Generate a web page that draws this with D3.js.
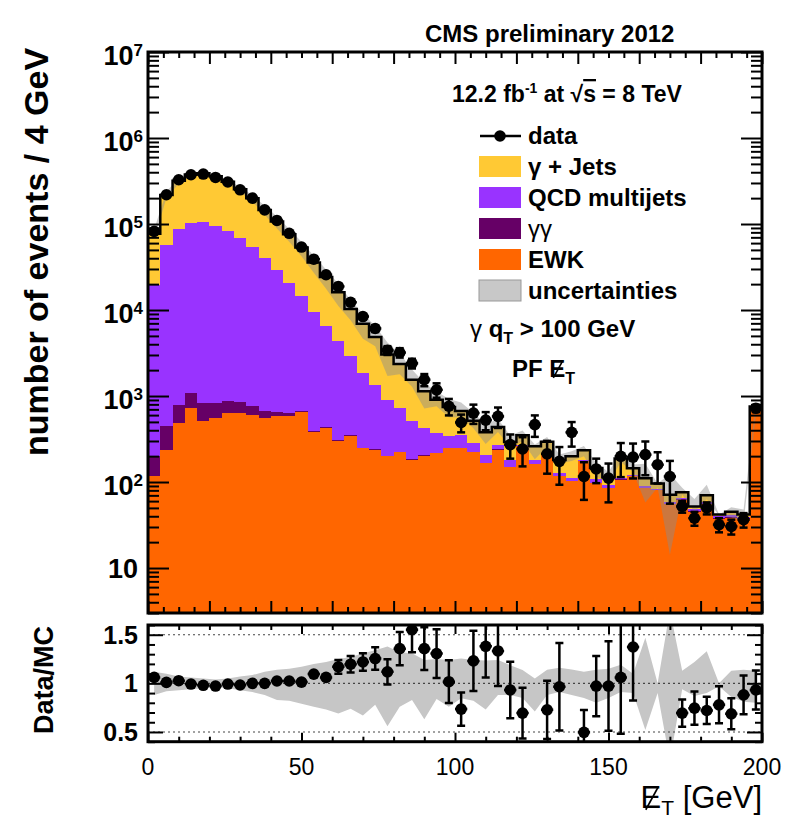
<!DOCTYPE html>
<html>
<head>
<meta charset="utf-8">
<script src="https://cdn.jsdelivr.net/npm/d3@7"></script>
<style>
body { margin: 0; background: #fff; }
svg text { font-family: "Liberation Sans", Arial, sans-serif; fill: #000; }
</style>
</head>
<body>
<svg width="785" height="828"></svg>
<script>
// MET distribution, 4 GeV bins, last bin = overflow
var binLow = [0, 4, 8, 12, 16, 20, 24, 28, 32, 36, 40, 44, 48, 52, 56, 60, 64, 68, 72, 76,
  80, 84, 88, 92, 96, 100, 104, 108, 112, 116, 120, 124, 128, 132, 136, 140, 144, 148, 152, 156,
  160, 164, 168, 172, 176, 180, 184, 188, 192, 196];

var ewk = [116, 238, 485, 724, 507, 555, 634, 634, 607, 555,
  580, 590, 646, 378, 425, 302, 345, 248, 238, 199,
  221, 181, 202, 217, 248, 250, 221, 166, 238, 149,
  259, 160, 208, 116, 102, 174, 97, 85, 106, 116,
  85, 80, 55, 62, 45, 55, 37, 38, 37, 740];

var gammagamma = [83, 206, 307, 360, 323, 275, 231, 216, 153, 109,
  72, 44, 29, 10, 8, 6, 5, 4, 4, 3,
  3, 3, 2, 2, 2, 2, 2, 1, 1, 1,
  1, 1, 1, 1, 1, 1, 1, 1, 1, 1,
  1, 1, 1, 1, 1, 1, 1, 1, 1, 1];

var qcd = [19500, 57000, 86000, 103000, 104000, 95000, 83000, 68000, 53000, 39500,
  28500, 20000, 13700, 9200, 6000, 4000, 2550, 1600, 1100, 700,
  500, 325, 220, 150, 90, 100, 60, 40, 34, 30,
  8, 19, 8, 11, 9, 5, 9, 6, 4, 3,
  3, 2, 2, 2, 2, 2, 2, 2, 1, 1];

var gjets = [57300, 159500, 231200, 272900, 284200, 262200, 226100, 185200, 146200, 105800,
  77800, 55400, 38900, 26000, 17800, 11800, 7400, 5050, 3520, 2140,
  1640, 1040, 716, 535, 407, 319, 233, 173, 162, 112,
  81, 80, 76, 52, 88, 54, 39, 22, 77, 25,
  22, 13, 13, 11, 4, 12, 2, 4, 3, 15];

var data = [82000, 219000, 327000, 374000, 381000, 348000, 308000, 250000, 200000, 146000,
  110000, 78000, 54000, 39000, 25700, 18800, 12300, 8400, 6100, 3400,
  3200, 2400, 1550, 1180, 760, 493, 634, 525, 580, 272,
  242, 465, 213, 174, 378, 116, 142, 111, 199, 195,
  208, 159, 116, 52, 38, 50, 32, 30.5, 36.5, 720];

var dataErr = [300, 500, 600, 650, 650, 600, 550, 500, 450, 380,
  330, 280, 230, 200, 160, 1100, 870, 620, 560, 400,
  400, 310, 250, 225, 165, 115, 160, 125, 155, 85,
  90, 130, 88, 81, 120, 54, 45, 53, 85, 85,
  88, 63, 60, 8, 7, 8, 6, 6, 7, 70];

var ratio = [1.061, 1.01, 1.027, 0.993, 0.98, 0.972, 0.993, 0.983, 1.0, 1.0,
  1.024, 1.024, 1.013, 1.095, 1.061, 1.17, 1.197, 1.22, 1.255, 1.119,
  1.357, 1.551, 1.357, 1.306, 1.017, 0.735, 1.231, 1.381, 1.333, 0.932,
  0.694, 1.79, 0.728, 0.965, 1.89, 0.496, 0.972, 0.972, 1.061, 1.374,
  1.89, 1.67, 1.66, 0.694, 0.745, 0.721, 0.779, 0.687, 0.881, 0.932];

var ratioErr = [0.01, 0.01, 0.01, 0.01, 0.01, 0.01, 0.01, 0.01, 0.01, 0.01,
  0.012, 0.012, 0.015, 0.02, 0.02, 0.07, 0.085, 0.09, 0.115, 0.13,
  0.17, 0.23, 0.22, 0.25, 0.22, 0.17, 0.31, 0.32, 0.36, 0.29,
  0.26, 0.5, 0.3, 0.45, 0.6, 0.23, 0.31, 0.46, 0.58, 0.55,
  0.8, 0.7, 0.9, 0.14, 0.17, 0.14, 0.19, 0.16, 0.2, 0.2];

// relative MC uncertainty (upper / lower edge)
var uncUp = [1.12, 1.10, 1.07, 1.06, 1.05, 1.04, 1.05, 1.07, 1.085, 1.12,
  1.14, 1.15, 1.17, 1.20, 1.22, 1.25, 1.27, 1.31, 1.34, 1.38,
  1.32, 1.31, 1.24, 1.25, 1.24, 1.255, 1.24, 1.235, 1.24, 1.187,
  1.136, 1.05, 1.14, 1.16, 1.143, 1.12, 1.14, 1.15, 1.19, 1.10,
  1.47, 1.0, 1.75, 1.13, 1.22, 1.33, 1.0, 1.13, 1.14, 1.13];
var uncDown = [0.88, 0.92, 0.93, 0.94, 0.95, 0.96, 0.95, 0.93, 0.91, 0.88,
  0.83, 0.82, 0.79, 0.76, 0.73, 0.69, 0.74, 0.67, 0.78, 0.56,
  0.76, 0.83, 0.63, 0.84, 0.76, 0.847, 0.82, 0.73, 0.88, 0.88,
  0.85, 0.71, 0.88, 0.91, 0.88, 0.85, 0.80, 0.85, 0.91, 0.90,
  0.52, 0.9, 0.2, 0.94, 0.87, 0.90, 0.97, 0.86, 0.81, 0.80];

var xTickLabels = [0, 50, 100, 150, 200];
var yDecades = [1, 2, 3, 4, 5, 6, 7];
var ratioTickLabels = [0.5, 1, 1.5];

var legendItems = [
  {key: "gjets", label: "\u03b3 + Jets", color: "#ffc934"},
  {key: "qcd", label: "QCD multijets", color: "#9933ff"},
  {key: "gammagamma", label: "\u03b3\u03b3", color: "#660066"},
  {key: "ewk", label: "EWK", color: "#ff6600"},
  {key: "unc", label: "uncertainties", color: "#c8c8c8"}
];
var colors = {ewk: "#ff6600", gammagamma: "#660066", qcd: "#9933ff", gjets: "#ffc934"};

var binWidth = 4;
var svg = d3.select("svg");

var x = d3.scaleLinear().domain([0, 200]).range([148, 762]);
var y = d3.scaleLog().domain([3, 1e7]).range([613, 52]);
var yr = d3.scaleLinear().domain([0.4, 1.6]).range([741.7, 625]);

var rows = binLow.map(function(b, i) {
  return {low: b, ewk: ewk[i], gammagamma: gammagamma[i], qcd: qcd[i], gjets: gjets[i],
    data: data[i], err: dataErr[i], ratio: ratio[i], rerr: ratioErr[i], up: uncUp[i], down: uncDown[i]};
});
rows.forEach(function(d) { d.total = d.ewk + d.gammagamma + d.qcd + d.gjets; });

var defs = svg.append("defs");
defs.append("clipPath").attr("id", "clipMain").append("rect")
  .attr("x", 148).attr("y", 52).attr("width", 614).attr("height", 561);
defs.append("clipPath").attr("id", "clipRatio").append("rect")
  .attr("x", 148).attr("y", 625).attr("width", 614).attr("height", 116.7);

// ---- main panel ----
var main = svg.append("g").attr("clip-path", "url(#clipMain)");

var stack = d3.stack().keys(["ewk", "gammagamma", "qcd", "gjets"]);
var layers = stack(rows);

main.selectAll(".layer")
  .data(layers)
  .enter().append("g")
    .attr("class", "layer")
    .attr("fill", function(d) { return colors[d.key]; })
  .selectAll("rect")
  .data(function(d) { return d; })
  .enter().append("rect")
    .attr("shape-rendering", "crispEdges")
    .attr("x", function(d) { return x(d.data.low); })
    .attr("width", function(d) { return x(d.data.low + binWidth) - x(d.data.low); })
    .attr("y", function(d) { return y(d[1]); })
    .attr("height", function(d) { return y(Math.max(d[0], 3)) - y(d[1]); });

// uncertainty band
var band = d3.area()
  .x(function(d) { return x(d.low + binWidth / 2); })
  .y0(function(d) { return y(Math.max(d.total * d.down, 0.5)); })
  .y1(function(d) { return y(d.total * d.up); });

main.append("path")
  .datum(rows)
  .attr("d", band)
  .attr("fill", "#8c8c8c")
  .attr("fill-opacity", 0.45);

// MC total step line
var stepPts = rows.map(function(d) { return [d.low, d.total]; });
stepPts.push([200, rows[rows.length - 1].total]);
main.append("path")
  .datum(stepPts)
  .attr("d", d3.line().curve(d3.curveStepAfter)
    .x(function(d) { return x(d[0]); })
    .y(function(d) { return y(d[1]); }))
  .attr("fill", "none")
  .attr("stroke", "#000")
  .attr("stroke-width", 2.5);

// data points
var pts = main.selectAll(".pt")
  .data(rows)
  .enter().append("g")
    .attr("class", "pt");

pts.append("line")
  .attr("x1", function(d) { return x(d.low + binWidth / 2); })
  .attr("x2", function(d) { return x(d.low + binWidth / 2); })
  .attr("y1", function(d) { return y(d.data + d.err); })
  .attr("y2", function(d) { return y(Math.max(d.data - d.err, 1)); })
  .attr("stroke", "#000").attr("stroke-width", 2.5);
pts.append("line")
  .attr("x1", function(d) { return x(d.low); })
  .attr("x2", function(d) { return x(d.low + binWidth); })
  .attr("y1", function(d) { return y(d.data); })
  .attr("y2", function(d) { return y(d.data); })
  .attr("stroke", "#000").attr("stroke-width", 2.5);
[1, -1].forEach(function(s) {
  pts.append("line")
    .attr("x1", function(d) { return x(d.low + binWidth / 2) - 4; })
    .attr("x2", function(d) { return x(d.low + binWidth / 2) + 4; })
    .attr("y1", function(d) { return y(Math.max(d.data + s * d.err, 1)); })
    .attr("y2", function(d) { return y(Math.max(d.data + s * d.err, 1)); })
    .attr("stroke", "#000").attr("stroke-width", 2.5);
});
pts.append("circle")
  .attr("cx", function(d) { return x(d.low + binWidth / 2); })
  .attr("cy", function(d) { return y(d.data); })
  .attr("r", 5.8)
  .attr("fill", "#000");

// ---- ratio panel ----
var rp = svg.append("g").attr("clip-path", "url(#clipRatio)");

rp.append("path")
  .datum(rows)
  .attr("d", d3.area()
    .x(function(d) { return x(d.low + binWidth / 2); })
    .y0(function(d) { return yr(d.down); })
    .y1(function(d) { return yr(d.up); }))
  .attr("fill", "#c6c6c6");

rp.selectAll(".dotline")
  .data(ratioTickLabels)
  .enter().append("line")
    .attr("x1", 148).attr("x2", 762)
    .attr("y1", function(d) { return yr(d); })
    .attr("y2", function(d) { return yr(d); })
    .attr("stroke", "#444")
    .attr("stroke-width", 1.2)
    .attr("stroke-dasharray", "2,3");

var rpts = rp.selectAll(".rpt")
  .data(rows.filter(function(d) { return d.ratio >= 0.4 && d.ratio <= 1.6; }))
  .enter().append("g")
    .attr("class", "rpt");

rpts.append("line")
  .attr("x1", function(d) { return x(d.low + binWidth / 2); })
  .attr("x2", function(d) { return x(d.low + binWidth / 2); })
  .attr("y1", function(d) { return yr(d.ratio + d.rerr); })
  .attr("y2", function(d) { return yr(d.ratio - d.rerr); })
  .attr("stroke", "#000").attr("stroke-width", 2.5);
rpts.append("line")
  .attr("x1", function(d) { return x(d.low); })
  .attr("x2", function(d) { return x(d.low + binWidth); })
  .attr("y1", function(d) { return yr(d.ratio); })
  .attr("y2", function(d) { return yr(d.ratio); })
  .attr("stroke", "#000").attr("stroke-width", 2.5);
[1, -1].forEach(function(s) {
  rpts.append("line")
    .attr("x1", function(d) { return x(d.low + binWidth / 2) - 4; })
    .attr("x2", function(d) { return x(d.low + binWidth / 2) + 4; })
    .attr("y1", function(d) { return yr(d.ratio + s * d.rerr); })
    .attr("y2", function(d) { return yr(d.ratio + s * d.rerr); })
    .attr("stroke", "#000").attr("stroke-width", 2.5);
});
rpts.append("circle")
  .attr("cx", function(d) { return x(d.low + binWidth / 2); })
  .attr("cy", function(d) { return yr(d.ratio); })
  .attr("r", 5.8)
  .attr("fill", "#000");

// ---- axes (ROOT style, ticks inside) ----
function tickAxis(axis, tr) {
  var g = svg.append("g").attr("transform", tr).call(axis);
  g.select(".domain").remove();
  g.selectAll("line").attr("stroke", "#000").attr("stroke-width", 2);
  return g;
}

var xMinor = d3.range(0, 201, 5).filter(function(v) { return v % 20; });
var xMajor = d3.range(0, 201, 20);
tickAxis(d3.axisBottom(x).tickValues(xMinor).tickSize(-6).tickFormat(""), "translate(0,613)");
tickAxis(d3.axisBottom(x).tickValues(xMajor).tickSize(-12).tickFormat(""), "translate(0,613)");
tickAxis(d3.axisTop(x).tickValues(xMinor).tickSize(-6).tickFormat(""), "translate(0,52)");
tickAxis(d3.axisTop(x).tickValues(xMajor).tickSize(-12).tickFormat(""), "translate(0,52)");

var yAll = y.ticks().filter(function(v) { return v >= 3 && v <= 1e7; });
var yMaj = yAll.filter(function(v) { return Math.abs(Math.log10(v) - Math.round(Math.log10(v))) < 1e-9; });
var yMin = yAll.filter(function(v) { return yMaj.indexOf(v) < 0; });
tickAxis(d3.axisLeft(y).tickValues(yMin).tickSize(-11).tickFormat(""), "translate(148,0)");
tickAxis(d3.axisLeft(y).tickValues(yMaj).tickSize(-21).tickFormat(""), "translate(148,0)");
tickAxis(d3.axisRight(y).tickValues(yMin).tickSize(-11).tickFormat(""), "translate(762,0)");
tickAxis(d3.axisRight(y).tickValues(yMaj).tickSize(-21).tickFormat(""), "translate(762,0)");

var rxMinor = d3.range(0, 201, 10).filter(function(v) { return v % 50; });
tickAxis(d3.axisBottom(x).tickValues(rxMinor).tickSize(-5).tickFormat(""), "translate(0,741.7)");
tickAxis(d3.axisBottom(x).tickValues(xTickLabels).tickSize(-9).tickFormat(""), "translate(0,741.7)");
tickAxis(d3.axisTop(x).tickValues(rxMinor).tickSize(-5).tickFormat(""), "translate(0,625)");
tickAxis(d3.axisTop(x).tickValues(xTickLabels).tickSize(-9).tickFormat(""), "translate(0,625)");

var ryMinor = d3.range(4, 17).map(function(v) { return v / 10; }).filter(function(v) { return ratioTickLabels.indexOf(v) < 0; });
tickAxis(d3.axisLeft(yr).tickValues(ryMinor).tickSize(-7).tickFormat(""), "translate(148,0)");
tickAxis(d3.axisLeft(yr).tickValues(ratioTickLabels).tickSize(-15).tickFormat(""), "translate(148,0)");
tickAxis(d3.axisRight(yr).tickValues(ryMinor).tickSize(-7).tickFormat(""), "translate(762,0)");
tickAxis(d3.axisRight(yr).tickValues(ratioTickLabels).tickSize(-15).tickFormat(""), "translate(762,0)");

// frames
svg.append("rect").attr("x", 148).attr("y", 52).attr("width", 614).attr("height", 561)
  .attr("fill", "none").attr("stroke", "#000").attr("stroke-width", 3);
svg.append("rect").attr("x", 148).attr("y", 625).attr("width", 614).attr("height", 116.7)
  .attr("fill", "none").attr("stroke", "#000").attr("stroke-width", 3);

// tick labels
yDecades.forEach(function(e) {
  var t = svg.append("text")
    .attr("text-anchor", "end")
    .attr("font-weight", "bold")
    .attr("font-size", 27);
  if (e === 1) {
    t.attr("x", 138).attr("y", y(10) + 10).text("10");
  } else {
    t.attr("x", 143).attr("y", y(Math.pow(10, e)) + 13);
    t.append("tspan").text("10");
    t.append("tspan").attr("font-size", 17).attr("dy", -9).text(e);
  }
});

svg.selectAll(".rlab")
  .data(ratioTickLabels)
  .enter().append("text")
    .attr("x", 138)
    .attr("y", function(d) { return yr(d) + 9; })
    .attr("text-anchor", "end")
    .attr("font-weight", "bold")
    .attr("font-size", 25)
    .text(function(d) { return d; });

svg.selectAll(".xlab")
  .data(xTickLabels)
  .enter().append("text")
    .attr("x", function(d) { return x(d); })
    .attr("y", 775)
    .attr("text-anchor", "middle")
    .attr("font-size", 23)
    .text(function(d) { return d; });

// axis titles
svg.append("text")
  .attr("transform", "translate(48,252) rotate(-90)")
  .attr("text-anchor", "middle")
  .attr("font-weight", "bold")
  .attr("font-size", 34)
  .text("number of events / 4 GeV");

svg.append("text")
  .attr("transform", "translate(53,680) rotate(-90)")
  .attr("text-anchor", "middle")
  .attr("font-weight", "bold")
  .attr("font-size", 27)
  .text("Data/MC");

function slashE(textSel, idx) {
  var box = textSel.node().getExtentOfChar(idx);
  svg.append("line")
    .attr("x1", box.x + box.width * 0.25).attr("y1", box.y + box.height * 0.85)
    .attr("x2", box.x + box.width * 0.85).attr("y2", box.y + box.height * 0.2)
    .attr("stroke", "#000").attr("stroke-width", 1.6);
}

var xt = svg.append("text")
  .attr("x", 762).attr("y", 808)
  .attr("text-anchor", "end")
  .attr("font-size", 31);
xt.append("tspan").text("E");
xt.append("tspan").attr("font-size", 21).attr("dy", 7).text("T");
xt.append("tspan").attr("dy", -7).text(" [GeV]");
slashE(xt, 0);

// labels on the plot
svg.append("text")
  .attr("x", 425).attr("y", 42)
  .attr("font-weight", "bold").attr("font-size", 24)
  .text("CMS preliminary 2012");

var lumi = svg.append("text")
  .attr("x", 452).attr("y", 102)
  .attr("font-weight", "bold").attr("font-size", 23);
lumi.append("tspan").text("12.2 fb");
lumi.append("tspan").attr("font-size", 14).attr("dy", -9).text("-1");
lumi.append("tspan").attr("dy", 9).text(" at  \u221a");
lumi.append("tspan").style("text-decoration", "overline").text("s");
lumi.append("tspan").text(" = 8 TeV");

var qt = svg.append("text")
  .attr("x", 470).attr("y", 337)
  .attr("font-weight", "bold").attr("font-size", 24);
qt.append("tspan").attr("font-weight", "normal").text("\u03b3 ");
qt.append("tspan").text("q");
qt.append("tspan").attr("font-size", 16).attr("dy", 7).text("T");
qt.append("tspan").attr("dy", -7).text(" > 100 GeV");

var pf = svg.append("text")
  .attr("x", 512).attr("y", 377)
  .attr("font-weight", "bold").attr("font-size", 24);
pf.append("tspan").text("PF E");
pf.append("tspan").attr("font-size", 16).attr("dy", 7).text("T");
slashE(pf, 3);

// legend
var lg = svg.append("g");
lg.append("line").attr("x1", 480).attr("x2", 521).attr("y1", 136).attr("y2", 136)
  .attr("stroke", "#000").attr("stroke-width", 2.5);
lg.append("circle").attr("cx", 500).attr("cy", 136).attr("r", 5.8).attr("fill", "#000");
lg.append("text").attr("x", 528).attr("y", 144)
  .attr("font-weight", "bold").attr("font-size", 24).text("data");

var li = lg.selectAll(".li")
  .data(legendItems)
  .enter().append("g")
    .attr("transform", function(d, i) { return "translate(479," + (156 + i * 31) + ")"; });
li.append("rect")
  .attr("width", 42).attr("height", 21)
  .attr("fill", function(d) { return d.color; })
  .attr("stroke", function(d) { return d.key === "unc" ? "#999" : "none"; });
li.append("text")
  .attr("x", 49).attr("y", 19)
  .attr("font-weight", function(d) { return d.key === "gammagamma" ? "normal" : "bold"; })
  .attr("font-size", 24)
  .text(function(d) { return d.label; });
</script>
</body>
</html>
